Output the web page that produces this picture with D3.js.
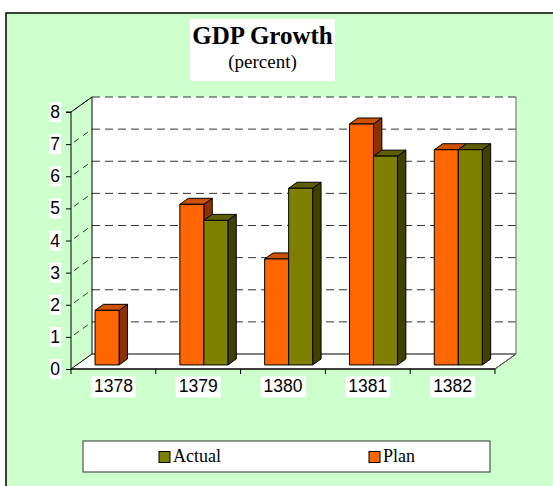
<!DOCTYPE html>
<html>
<head>
<meta charset="utf-8">
<script src="https://cdn.jsdelivr.net/npm/d3@7"></script>
<style>
  body { margin: 0; background: #fff; }
  svg { display: block; }
</style>
</head>
<body>
<div id="chart"></div>
<script>
// DATA
const years = ["1378", "1379", "1380", "1381", "1382"];
const plan = [1.7, 5.0, 3.3, 7.5, 6.7];
const actual = [null, 4.5, 5.5, 6.5, 6.7];
const yTicks = [0, 1, 2, 3, 4, 5, 6, 7, 8];
const legendItems = [
  {name: "Actual", color: "#808000"},
  {name: "Plan", color: "#FF6600"}
];

const width = 553, height = 486;

// depth of the 3d box
const depthX = 21, depthY = 15;
// bars sit inside the depth from f0 to f1
const f0 = 0.27, f1 = 0.67;

const svg = d3.select("#chart").append("svg")
  .attr("width", width)
  .attr("height", height);

// outer frame
svg.append("rect")
  .attr("x", 6).attr("y", 13)
  .attr("width", 560).attr("height", 490)
  .attr("fill", "#CCFFCC")
  .attr("stroke", "#000")
  .attr("stroke-width", 1.5);

// title
svg.append("rect")
  .attr("x", 190).attr("y", 19)
  .attr("width", 145).attr("height", 62)
  .attr("fill", "#fff");
svg.append("text")
  .attr("x", 262.5).attr("y", 44)
  .attr("text-anchor", "middle")
  .attr("font-family", "Liberation Serif, Times New Roman, serif")
  .attr("font-weight", "bold")
  .attr("font-size", 25)
  .text("GDP Growth");
svg.append("text")
  .attr("x", 262.5).attr("y", 68)
  .attr("text-anchor", "middle")
  .attr("font-family", "Liberation Serif, Times New Roman, serif")
  .attr("font-size", 19)
  .text("(percent)");

// SCALES
const x = d3.scaleBand().domain(years).range([71, 495]).padding(0);
const y = d3.scaleLinear().domain([0, 8]).range([369, 112]);

const x0 = x.range()[0], x1 = x.range()[1];
const y0 = y(0), yTop = y(8);

// back wall
svg.append("rect")
  .attr("x", x0 + depthX).attr("y", yTop - depthY)
  .attr("width", x1 - x0).attr("height", y0 - yTop)
  .attr("fill", "#fff");

// floor
svg.append("path")
  .attr("d", `M${x0},${y0}L${x1},${y0}L${x1 + depthX},${y0 - depthY}L${x0 + depthX},${y0 - depthY}Z`)
  .attr("fill", "#fff")
  .attr("stroke", "#000")
  .attr("stroke-width", 1);

// gridlines on back wall and left wall
const grid = svg.append("g")
  .attr("stroke", "#333")
  .attr("stroke-width", 1)
  .attr("stroke-dasharray", "8,5");
grid.selectAll(".gb")
  .data(yTicks.filter(d => d > 0))
  .join("line")
  .attr("x1", x0 + depthX).attr("x2", x1 + depthX)
  .attr("y1", d => y(d) - depthY).attr("y2", d => y(d) - depthY);
grid.selectAll(".gl")
  .data(yTicks.filter(d => d > 0))
  .join("line")
  .attr("x1", x0 + 3).attr("x2", x0 + depthX)
  .attr("y1", d => y(d) - 2).attr("y2", d => y(d) - depthY)
  .attr("stroke-dasharray", "6,5");

// back wall edges
svg.append("line")
  .attr("x1", x0 + depthX).attr("x2", x0 + depthX)
  .attr("y1", yTop - depthY).attr("y2", y0 - depthY)
  .attr("stroke", "#000");
svg.append("line")
  .attr("x1", x1 + depthX).attr("x2", x1 + depthX)
  .attr("y1", yTop - depthY).attr("y2", y0 - depthY)
  .attr("stroke", "#666");
svg.append("line")
  .attr("x1", x0).attr("x2", x0 + depthX)
  .attr("y1", yTop).attr("y2", yTop - depthY)
  .attr("stroke", "#000");
svg.append("line")
  .attr("x1", x1).attr("x2", x1 + depthX)
  .attr("y1", y0).attr("y2", y0 - depthY)
  .attr("stroke", "#666");

// BARS
const barW = 24;
const series = [
  {name: "Plan", values: plan, front: "#FF6600", top: "#CC5200", side: "#8B3300", off: -barW},
  {name: "Actual", values: actual, front: "#808000", top: "#5E5E00", side: "#404000", off: 0}
];

const bx = f0 * depthX, by = f0 * depthY;
const sx = (f1 - f0) * depthX, sy = (f1 - f0) * depthY;

const bars = [];
years.forEach((yr, i) => {
  series.forEach(s => {
    if (s.values[i] != null) bars.push({year: yr, value: s.values[i], s: s});
  });
});

const barG = svg.append("g")
  .attr("stroke", "#000")
  .attr("stroke-width", 1)
  .attr("stroke-linejoin", "round");

bars.forEach(d => {
  const left = x(d.year) + x.bandwidth() / 2 + d.s.off + bx;
  const right = left + barW;
  const bottom = y0 - by;
  const top = y(d.value) - by;
  const g = barG.append("g");
  // side
  g.append("path")
    .attr("d", `M${right},${bottom}L${right + sx},${bottom - sy}L${right + sx},${top - sy}L${right},${top}Z`)
    .attr("fill", d.s.side);
  // top
  g.append("path")
    .attr("d", `M${left},${top}L${right},${top}L${right + sx},${top - sy}L${left + sx},${top - sy}Z`)
    .attr("fill", d.s.top);
  // front
  g.append("rect")
    .attr("x", left).attr("y", top)
    .attr("width", barW).attr("height", bottom - top)
    .attr("fill", d.s.front);
});

// Y AXIS
const yAxis = svg.append("g")
  .attr("transform", `translate(${x0},0)`)
  .call(d3.axisLeft(y).tickValues(yTicks).tickSize(5).tickPadding(6).tickFormat(d3.format("d")));
yAxis.select(".domain").attr("stroke", "#000").attr("d", `M-5,${yTop}H0V${y0}`);
yAxis.selectAll("text")
  .attr("font-family", "Liberation Sans, Arial, sans-serif")
  .attr("font-size", 17.5)
  .attr("fill", "#000");
yAxis.selectAll(".tick").each(function() {
  const t = d3.select(this).select("text");
  const b = t.node().getBBox();
  d3.select(this).insert("rect", "text")
    .attr("x", b.x - 1).attr("y", b.y)
    .attr("width", b.width + 2).attr("height", b.height)
    .attr("fill", "#fff");
});

// X AXIS
const xAxis = svg.append("g")
  .attr("transform", `translate(0,${y0})`)
  .call(d3.axisBottom(x).tickSize(0).tickPadding(11));
xAxis.select(".domain").remove();
xAxis.selectAll("text")
  .attr("font-family", "Liberation Sans, Arial, sans-serif")
  .attr("font-size", 17.5)
  .attr("fill", "#000");
xAxis.selectAll(".tick").each(function() {
  const t = d3.select(this).select("text");
  const b = t.node().getBBox();
  d3.select(this).insert("rect", "text")
    .attr("x", b.x - 3).attr("y", b.y)
    .attr("width", b.width + 6).attr("height", b.height + 1)
    .attr("fill", "#fff");
});
// front floor edge and boundary ticks
svg.append("line")
  .attr("x1", x0).attr("x2", x1)
  .attr("y1", y0).attr("y2", y0)
  .attr("stroke", "#000");
svg.append("g").selectAll("line")
  .data(d3.range(years.length + 1))
  .join("line")
  .attr("x1", i => x0 + i * x.step()).attr("x2", i => x0 + i * x.step())
  .attr("y1", y0).attr("y2", y0 + 5)
  .attr("stroke", "#000");

// LEGEND
const legend = svg.append("g");
legend.append("rect")
  .attr("x", 83).attr("y", 441)
  .attr("width", 407).attr("height", 31)
  .attr("fill", "#fff")
  .attr("stroke", "#333")
  .attr("stroke-width", 1);
const legX = d3.scaleOrdinal().domain(legendItems.map(d => d.name)).range([159, 369]);
legendItems.forEach(d => {
  legend.append("rect")
    .attr("x", legX(d.name)).attr("y", 451.5)
    .attr("width", 11).attr("height", 11)
    .attr("fill", d.color)
    .attr("stroke", "#000");
  legend.append("text")
    .attr("x", legX(d.name) + 14).attr("y", 462)
    .attr("font-family", "Liberation Serif, Times New Roman, serif")
    .attr("font-size", 18)
    .attr("fill", "#000")
    .text(d.name);
});
</script>
</body>
</html>
